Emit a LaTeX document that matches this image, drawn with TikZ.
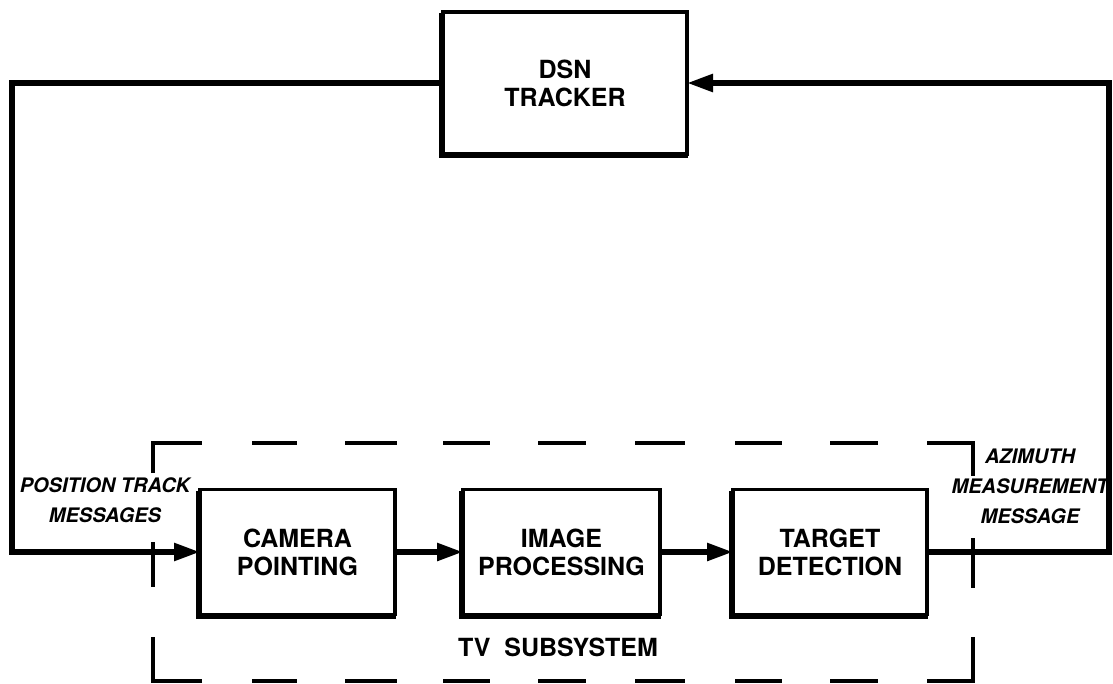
\documentclass[tikz,border=0pt]{standalone}
\usepackage{fontspec}
\setmainfont{TeX Gyre Heros}
\usetikzlibrary{arrows.meta}
\begin{document}
\begin{tikzpicture}[x=1pt,y=-1pt,
  blk/.style={draw,line width=3.5pt,outer sep=0pt,minimum width=#1,minimum height=125pt,align=center,
    font=\fontsize{25}{28}\selectfont\bfseries,inner sep=0pt},
  flow/.style={line width=5.5pt,-{Triangle[length=26pt,width=17pt]}},
  dsh/.style={line width=3.5pt},
  shd/.style={line width=3pt},
  lbl/.style={font=\fontsize{20}{30}\selectfont\bfseries\itshape,align=center,inner sep=0pt}]
\useasboundingbox (0,0) rectangle (1113,684);
% boxes
\node[blk=244pt,minimum height=142pt] (dsn) at (565,83) {DSN\\TRACKER};
\node[blk=195pt] (cam) at (297.5,552) {CAMERA\\POINTING};
\node[blk=197pt] (img) at (561.5,552) {IMAGE\\PROCESSING};
\node[blk=194pt] (tgt) at (830,552) {TARGET\\DETECTION};
% box shadows on left and bottom
\foreach \n in {dsn,cam,img,tgt}{
  \draw[shd] ([xshift=-2.5pt,yshift=-1pt]\n.north west) -- ([xshift=-2.5pt,yshift=-2.5pt]\n.south west)
     -- ([xshift=1pt,yshift=-2.5pt]\n.south east);
}
% connectors
\coordinate (lx) at (12,552);
\coordinate (rx) at (1109,83);
\draw[flow] (dsn.west) -| (lx) |- (cam.west);
\draw[flow] (cam.east) -- (img.west);
\draw[flow] (img.east) -- (tgt.west);
\draw[flow] (tgt.east) -| (rx) |- (dsn.east);
% dashed TV subsystem boundary
\draw[dsh] (153,473) -- (153,443) -- (202,443);
\foreach \a/\b in {252/297,345/397,443/490,538/586,635/685,735/782,830/878}{
  \draw[dsh] (\a,443) -- (\b,443);
  \draw[dsh] (\a,681) -- (\b,681);
}
\draw[dsh] (927,443) -- (973,443) -- (973,476);
\draw[dsh] (973,538) -- (973,588);
\draw[dsh] (973,637) -- (973,681) -- (927,681);
\draw[dsh] (202,681) -- (153,681) -- (153,637);
\draw[dsh] (153,542) -- (153,587);
% labels
\node[lbl] (ptm) at (105,500) {POSITION TRACK\\MESSAGES};
\node[lbl] (amm) at (1030,486) {AZIMUTH\\MEASUREMENT\\MESSAGE};
\node[font=\fontsize{25}{28}\selectfont\bfseries] (tvs) at (558,647) {TV\ \ SUBSYSTEM};
\end{tikzpicture}
\end{document}
